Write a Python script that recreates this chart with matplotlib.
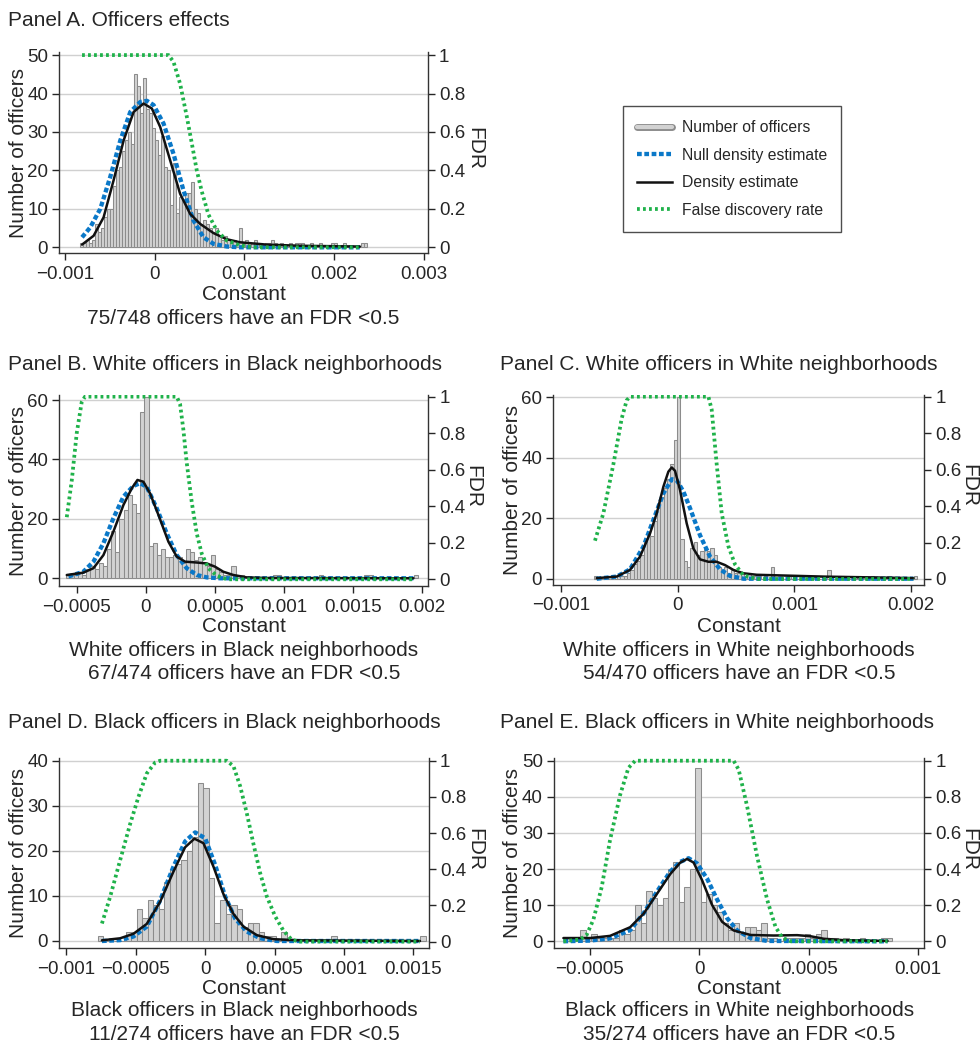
import numpy as np
import matplotlib
matplotlib.use("Agg")
import matplotlib.pyplot as plt
import matplotlib.patheffects as pe
from matplotlib.lines import Line2D

W, H = 980, 1044
plt.rcParams["font.family"] = ["Liberation Sans", "DejaVu Sans"]
plt.rcParams["axes.unicode_minus"] = True

# ---------------- data ----------------
# Panel A: all officers
a_bin_start, a_bin_width = -0.00083, 0.0000333
a_counts = [1, 1, 2, 1, 2, 6, 4, 5, 8, 10,
            10, 16, 20, 21, 25, 28, 30, 27, 45, 42,
            35, 44, 36, 35, 31, 28, 24, 29, 21, 20,
            11, 22, 9, 13, 12, 14, 14, 17, 10, 9,
            6, 7, 6, 5, 4, 5, 3, 2, 3, 2,
            1, 2, 1, 5, 1, 2, 1, 1, 2, 1,
            1, 0, 1, 1, 2, 1, 0, 1, 0, 0,
            1, 0, 1, 1, 1, 0, 0, 1, 0, 0,
            1, 0, 0, 0, 1, 1, 0, 0, 1, 0,
            0, 0, 0, 0, 1, 1]
a_dens_x = [-0.000807, -0.000678, -0.000567, -0.000456, -0.000344, -0.000233, -0.000122,
            -0.00003, 0.000063, 0.000174, 0.000285, 0.000396, 0.000507, 0.000656,
            0.000804, 0.000952, 0.001248, 0.001619, 0.002285]
a_dens_y = [0.7, 3.0, 7.8, 17.4, 27.8, 35.2, 37.4, 36.1, 31.3, 22.6, 13.9, 8.7, 6.1, 3.7,
            2.1, 1.3, 0.7, 0.4, 0.2]
a_null_x = [-0.000807, -0.000715, -0.000604, -0.000493, -0.000381, -0.00027, -0.000159,
            -0.000085, -0.000011, 0.0001, 0.000211, 0.000322, 0.000433, 0.000544,
            0.000656, 0.000804, 0.000952, 0.002285]
a_null_y = [2.6, 5.2, 10.0, 18.3, 27.8, 35.2, 37.8, 38.1, 37.0, 32.2, 24.3, 14.8, 7.0, 2.6,
            0.9, 0.2, 0.0, 0.0]
a_fdr_x = [-0.000807, 0.000156, 0.000211, 0.000285, 0.000359, 0.000415, 0.00047, 0.000526,
           0.0006, 0.000693, 0.000804, 0.000952, 0.0011, 0.002285]
a_fdr_y = [1.0, 1.0, 0.965, 0.85, 0.68, 0.54, 0.40, 0.29, 0.17, 0.087, 0.035, 0.01, 0.0, 0.0]

# Panel B: White officers in Black neighborhoods
b_bin_start, b_bin_width = -0.00058, 0.00003
b_counts = [1, 1, 1, 2, 1, 3, 4, 3, 5, 4,
            10, 16, 9, 20, 23, 28, 25, 22, 56, 61,
            11, 12, 8, 10, 7, 7, 8, 7, 5, 10,
            9, 6, 7, 5, 4, 8, 3, 2, 1, 1,
            4, 1, 1, 0, 0, 0, 0, 0, 0, 0,
            1, 1, 0, 0, 0, 0, 0, 0, 0, 0,
            0, 1, 0, 0, 0, 0, 0, 0, 0, 0,
            0, 0, 1, 1, 0, 0, 0, 0, 0, 0,
            0, 0, 0, 0, 1]
b_dens_x = [-0.000571, -0.000451, -0.000378, -0.000306, -0.000234, -0.000161, -0.000101,
            -0.00006, -0.000017, 0.000031, 0.000092, 0.000164, 0.000224, 0.000284,
            0.000369, 0.000441, 0.000501, 0.000561, 0.000634, 0.00073, 0.000875, 0.001935]
b_dens_y = [1.1, 1.9, 3.4, 7.8, 15.7, 24.7, 30.3, 33.1, 32.5, 28.6, 21.3, 12.3, 7.3, 5.6,
            5.3, 5.0, 3.9, 2.2, 1.1, 0.3, 0.1, 0.0]
b_null_x = [-0.000559, -0.000451, -0.000378, -0.000306, -0.000234, -0.000161, -0.000089,
            -0.000041, 0.000007, 0.00008, 0.000152, 0.000224, 0.000296, 0.000369,
            0.000441, 0.000537, 0.001935]
b_null_y = [0.6, 2.2, 5.6, 11.8, 20.2, 27.5, 31.1, 32.0, 30.8, 23.5, 15.1, 7.8, 3.4, 1.1,
            0.3, 0.0, 0.0]
b_fdr_x = [-0.000571, -0.000535, -0.000499, -0.000463, -0.000439, 0.000224, 0.000248,
           0.000272, 0.000296, 0.000333, 0.000369, 0.000405, 0.000453, 0.000513,
           0.000586, 0.001935]
b_fdr_y = [0.34, 0.54, 0.80, 0.97, 1.0, 1.0, 0.96, 0.82, 0.64, 0.42, 0.25, 0.14, 0.06, 0.02,
           0.0, 0.0]

# Panel C: White officers in White neighborhoods
c_bin_start, c_bin_width = -0.00072, 0.0000286
c_counts = [1, 0, 0, 0, 0, 0, 0, 1, 1, 1,
            2, 3, 5, 6, 8, 12, 15, 14, 19, 24,
            27, 30, 33, 38, 46, 60, 13, 6, 4, 10,
            12, 8, 9, 10, 9, 10, 8, 4, 3, 4,
            2, 3, 2, 2, 2, 1, 2, 1, 1, 1,
            0, 1, 0, 4, 0, 0, 0, 0, 1, 0,
            0, 0, 1, 0, 0, 0, 1, 0, 0, 0,
            3, 0, 0, 0, 1, 0, 0, 0, 0, 1,
            0, 0, 0, 1, 0, 0, 0, 0, 1, 0,
            0, 0, 0, 0, 0, 0, 1]
c_dens_x = [-0.000694, -0.000523, -0.000409, -0.000323, -0.000237, -0.00018, -0.000123,
            -0.00008, -0.000051, -0.000023, 0.00002, 0.000077, 0.000134, 0.000191,
            0.000263, 0.000334, 0.000406, 0.000477, 0.000563, 0.000677, 0.000963,
            0.001249, 0.00202]
c_dens_y = [0.2, 0.7, 2.9, 7.3, 15.0, 21.6, 30.4, 35.4, 36.8, 35.7, 29.3, 18.3, 10.0, 6.4,
            5.6, 5.6, 4.5, 2.9, 1.8, 1.3, 1.0, 0.7, 0.2]
c_null_x = [-0.000694, -0.000523, -0.000409, -0.000294, -0.000209, -0.000123, -0.000051,
            -0.000009, 0.000049, 0.000106, 0.000191, 0.000277, 0.000363, 0.000449,
            0.000563, 0.00202]
c_null_y = [0.0, 0.7, 3.1, 10.6, 19.4, 28.2, 32.9, 32.6, 28.8, 23.3, 14.4, 7.3, 3.1, 0.9,
            0.0, 0.0]
c_fdr_x = [-0.000709, -0.000637, -0.000551, -0.00048, -0.000437, -0.000409, 0.000263,
           0.000291, 0.000334, 0.000377, 0.000434, 0.000491, 0.000563, 0.000677, 0.00202]
c_fdr_y = [0.21, 0.36, 0.63, 0.88, 0.98, 1.0, 1.0, 0.93, 0.63, 0.36, 0.18, 0.08, 0.02,
           0.0, 0.0]

# Panel D: Black officers in Black neighborhoods
d_bin_start, d_bin_width = -0.000773, 0.00004
d_counts = [1, 0, 0, 0, 0, 2, 2, 7, 5, 9,
            8, 7, 13, 16, 17, 18, 20, 23, 35, 34,
            14, 4, 9, 6, 8, 7, 3, 4, 4, 2,
            1, 1, 0, 2, 0, 0, 0, 0, 0, 0,
            0, 0, 1, 0, 0, 0, 0, 0, 0, 0,
            0, 0, 0, 0, 0, 0, 0, 0, 1]
d_dens_x = [-0.000743, -0.000612, -0.000516, -0.00042, -0.000324, -0.000228, -0.000144,
            -0.000077, -0.000012, 0.00006, 0.000132, 0.000204, 0.000276, 0.000372,
            0.000492, 0.000683, 0.001547]
d_dens_y = [0.15, 0.6, 1.6, 3.8, 8.7, 15.4, 20.8, 22.7, 21.7, 16.5, 10.4, 6.0, 3.2, 1.3,
            0.4, 0.15, 0.0]
d_null_x = [-0.000743, -0.000612, -0.000516, -0.00042, -0.000324, -0.000228, -0.000144,
            -0.000072, 0.0, 0.000072, 0.000144, 0.000216, 0.0003, 0.000396, 0.000516,
            0.001547]
d_null_y = [0.0, 0.2, 1.0, 3.2, 9.0, 16.5, 22.1, 24.1, 22.8, 16.9, 9.9, 5.0, 2.1, 0.6,
            0.0, 0.0]
d_fdr_x = [-0.000743, -0.000683, -0.000612, -0.00054, -0.00048, -0.00042, -0.00036,
           -0.000324, 0.000156, 0.000204, 0.000252, 0.0003, 0.000348, 0.000396, 0.000444,
           0.000504, 0.000564, 0.000624, 0.000683, 0.001547]
d_fdr_y = [0.10, 0.25, 0.45, 0.65, 0.80, 0.93, 0.99, 1.0, 1.0, 0.97, 0.86, 0.71, 0.54, 0.38,
           0.25, 0.14, 0.06, 0.01, 0.0, 0.0]

# Panel E: Black officers in White neighborhoods
e_bin_start, e_bin_width = -0.000618, 0.000025
e_counts = [1, 1, 1, 3, 1, 2, 1, 1, 1, 1,
            3, 2, 3, 10, 5, 14, 12, 10, 12, 20,
            22, 11, 15, 20, 48, 11, 13, 10, 8, 5,
            3, 5, 2, 4, 4, 3, 5, 1, 1, 0,
            1, 1, 1, 1, 2, 1, 2, 3, 1, 1,
            0, 1, 0, 0, 1, 0, 0, 0, 1, 1]
e_dens_x = [-0.000621, -0.000499, -0.000408, -0.000316, -0.000255, -0.000194, -0.000133,
            -0.000087, -0.000056, -0.000026, 0.000012, 0.000058, 0.000104, 0.000157,
            0.000234, 0.00034, 0.000447, 0.000508, 0.000569, 0.000661, 0.00086]
e_dens_y = [0.9, 0.9, 1.5, 3.9, 7.6, 13.1, 18.6, 21.8, 22.8, 21.8, 17.0, 10.1, 5.4, 3.0,
            1.75, 1.6, 1.7, 1.4, 0.7, 0.3, 0.1]
e_null_x = [-0.000621, -0.000499, -0.000408, -0.000316, -0.000255, -0.000194, -0.000133,
            -0.000087, -0.000049, -0.000011, 0.000035, 0.000081, 0.000127, 0.000173,
            0.000234, 0.00031, 0.00086]
e_null_y = [0.0, 0.2, 0.8, 3.1, 7.7, 13.7, 19.3, 22.0, 23.0, 21.6, 17.4, 11.6, 6.4, 3.0,
            0.9, 0.1, 0.0]
e_fdr_x = [-0.000621, -0.000545, -0.000515, -0.000484, -0.000446, -0.000408, -0.000362,
           -0.000324, -0.000293, 0.000157, 0.00018, 0.000218, 0.000264, 0.00031, 0.000348,
           0.000379, 0.000417, 0.00086]
e_fdr_y = [0.0, 0.01, 0.035, 0.12, 0.30, 0.56, 0.81, 0.96, 1.0, 1.0, 0.95, 0.75, 0.47, 0.23,
           0.08, 0.02, 0.0, 0.0]

fdr_ticks = [0, 0.2, 0.4, 0.6, 0.8, 1]

# ---------------- style ----------------
BAR_FACE = "#d2d2d2"
BAR_EDGE = "#8c8c8c"
BLUE = "#0a78c8"
GREEN = "#1fb24a"
TXT = "#262626"
GRID = "#d0d0d0"
TICK_FS = 13.5
LAB_FS = 15
BLUE_LS = (0, (1.1, 0.6))
GREEN_LS = (0, (0.75, 0.85))


def fx(x):
    return x / W


def fy(y):
    return 1 - y / H


def fmt(v):
    return f"{v:g}".replace("-", "\u2212")


def panel(fig, box, title, title_xy, start, width, counts, dens, null, fdr,
          xlim, ylim, fdr_ylim, xticks, yticks, ylab_x, fdr_x, label_y, notes):
    l, t, r, b = box
    ax = fig.add_axes([fx(l), fy(b), (r - l) / W, (b - t) / H])
    edges = start + width * np.arange(len(counts))
    ax.bar(edges, counts, width=width, align="edge", color=BAR_FACE,
           edgecolor=BAR_EDGE, linewidth=0.75, zorder=2)
    ax.plot(null[0], null[1], color=BLUE, lw=3.1, ls=BLUE_LS, zorder=3)
    ax.plot(dens[0], dens[1], color="#111111", lw=1.8, zorder=4,
            solid_joinstyle="round", solid_capstyle="round")
    ax.set_xlim(*xlim)
    ax.set_ylim(*ylim)
    ax.set_xticks(xticks)
    ax.set_xticklabels([fmt(v) for v in xticks])
    ax.set_yticks(yticks)
    ax.set_yticklabels([fmt(v) for v in yticks])
    ax.grid(axis="y", color=GRID, lw=1.0)
    ax.set_axisbelow(True)
    for s in ("top", "right"):
        ax.spines[s].set_visible(False)
    for s in ("left", "bottom"):
        ax.spines[s].set_color("#333333")
        ax.spines[s].set_linewidth(1.0)
    ax.tick_params(axis="both", labelsize=TICK_FS, colors=TXT, length=5, width=1,
                   direction="out")
    ax.tick_params(axis="x", pad=4)
    ax.tick_params(axis="y", pad=3)

    ax2 = ax.twinx()
    ax2.plot(fdr[0], fdr[1], color=GREEN, lw=2.7, ls=GREEN_LS, zorder=5)
    ax2.set_ylim(*fdr_ylim)
    ax2.set_yticks(fdr_ticks)
    ax2.set_yticklabels([fmt(v) for v in fdr_ticks])
    for s in ("top", "left", "bottom"):
        ax2.spines[s].set_visible(False)
    ax2.spines["right"].set_color("#333333")
    ax2.spines["right"].set_linewidth(1.0)
    ax2.tick_params(axis="y", labelsize=TICK_FS, colors=TXT, length=5, width=1, pad=3)

    fig.text(fx(title_xy[0]), fy(title_xy[1]), title, fontsize=LAB_FS, color=TXT,
             ha="left", va="center")
    mid = (t + b) / 2
    fig.text(fx(ylab_x), fy(mid), "Number of officers", fontsize=LAB_FS, color=TXT,
             rotation=90, ha="center", va="center")
    fig.text(fx(fdr_x), fy(mid - 4), "FDR", fontsize=LAB_FS, color=TXT,
             rotation=-90, ha="center", va="center")
    cx = (l + r) / 2
    fig.text(fx(cx), fy(label_y), "Constant", fontsize=LAB_FS, color=TXT,
             ha="center", va="center")
    for i, line in enumerate(notes):
        fig.text(fx(cx), fy(label_y + 23 + 23.5 * i), line, fontsize=LAB_FS, color=TXT,
                 ha="center", va="center")
    return ax


fig = plt.figure(figsize=(W / 100, H / 100), dpi=100)

panel(fig, (59.3, 52, 427.7, 253.3), "Panel A. Officers effects", (8, 20),
      a_bin_start, a_bin_width, a_counts, (a_dens_x, a_dens_y), (a_null_x, a_null_y),
      (a_fdr_x, a_fdr_y), (-0.00106, 0.00304), (-1.56, 50.8), (-0.0312, 1.016),
      [-0.001, 0, 0.001, 0.002, 0.003], [0, 10, 20, 30, 40, 50], 18, 475, 295,
      ["75/748 officers have an FDR <0.5"])

panel(fig, (59.3, 395, 428.3, 586), "Panel B. White officers in Black neighborhoods",
      (8, 365), b_bin_start, b_bin_width, b_counts, (b_dens_x, b_dens_y),
      (b_null_x, b_null_y), (b_fdr_x, b_fdr_y), (-0.000625, 0.002043), (-2.6, 61.7),
      (-0.0367, 1.009), [-0.0005, 0, 0.0005, 0.001, 0.0015, 0.002], [0, 20, 40, 60],
      18, 473, 627,
      ["White officers in Black neighborhoods", "67/474 officers have an FDR <0.5"])

panel(fig, (553.3, 395, 924.3, 585), "Panel C. White officers in White neighborhoods",
      (500, 365), c_bin_start, c_bin_width, c_counts, (c_dens_x, c_dens_y),
      (c_null_x, c_null_y), (c_fdr_x, c_fdr_y), (-0.001066, 0.002113), (-2.08, 60.76),
      (-0.033, 1.009), [-0.001, 0, 0.001, 0.002], [0, 20, 40, 60],
      512, 969, 627,
      ["White officers in White neighborhoods", "54/470 officers have an FDR <0.5"])

panel(fig, (59.3, 758, 429, 948.3), "Panel D. Black officers in Black neighborhoods",
      (8, 722), d_bin_start, d_bin_width, d_counts, (d_dens_x, d_dens_y),
      (d_null_x, d_null_y), (d_fdr_x, d_fdr_y), (-0.00105, 0.001612), (-1.62, 40.6),
      (-0.037, 1.015), [-0.001, -0.0005, 0, 0.0005, 0.001, 0.0015], [0, 10, 20, 30, 40],
      18, 475, 988,
      ["Black officers in Black neighborhoods", "11/274 officers have an FDR <0.5"])

panel(fig, (554, 758, 924.3, 948.3), "Panel E. Black officers in White neighborhoods",
      (500, 722), e_bin_start, e_bin_width, e_counts, (e_dens_x, e_dens_y),
      (e_null_x, e_null_y), (e_fdr_x, e_fdr_y), (-0.000664, 0.001028), (-1.94, 50.75),
      (-0.0388, 1.015), [-0.0005, 0, 0.0005, 0.001], [0, 10, 20, 30, 40, 50],
      512, 969, 988,
      ["Black officers in White neighborhoods", "35/274 officers have an FDR <0.5"])

handles = [
    Line2D([], [], color=BAR_FACE, lw=3.0, solid_capstyle="round",
           path_effects=[pe.Stroke(linewidth=5.0, foreground=BAR_EDGE,
                                   capstyle="round"), pe.Normal()]),
    Line2D([], [], color=BLUE, lw=3.1, ls=BLUE_LS),
    Line2D([], [], color="#111111", lw=1.8),
    Line2D([], [], color=GREEN, lw=2.7, ls=GREEN_LS),
]
labels = ["Number of officers", "Null density estimate", "Density estimate",
          "False discovery rate"]
leg = fig.legend(handles, labels, loc="upper left", bbox_to_anchor=(fx(623), fy(106)),
                 frameon=True, fancybox=False, edgecolor="#222222", fontsize=11.3,
                 handlelength=2.2, handletextpad=0.65, labelspacing=0.8,
                 borderpad=0.9, borderaxespad=0)
leg.get_frame().set_linewidth(1.0)
for t in leg.get_texts():
    t.set_color(TXT)

fig.savefig("out.png", dpi=100)
